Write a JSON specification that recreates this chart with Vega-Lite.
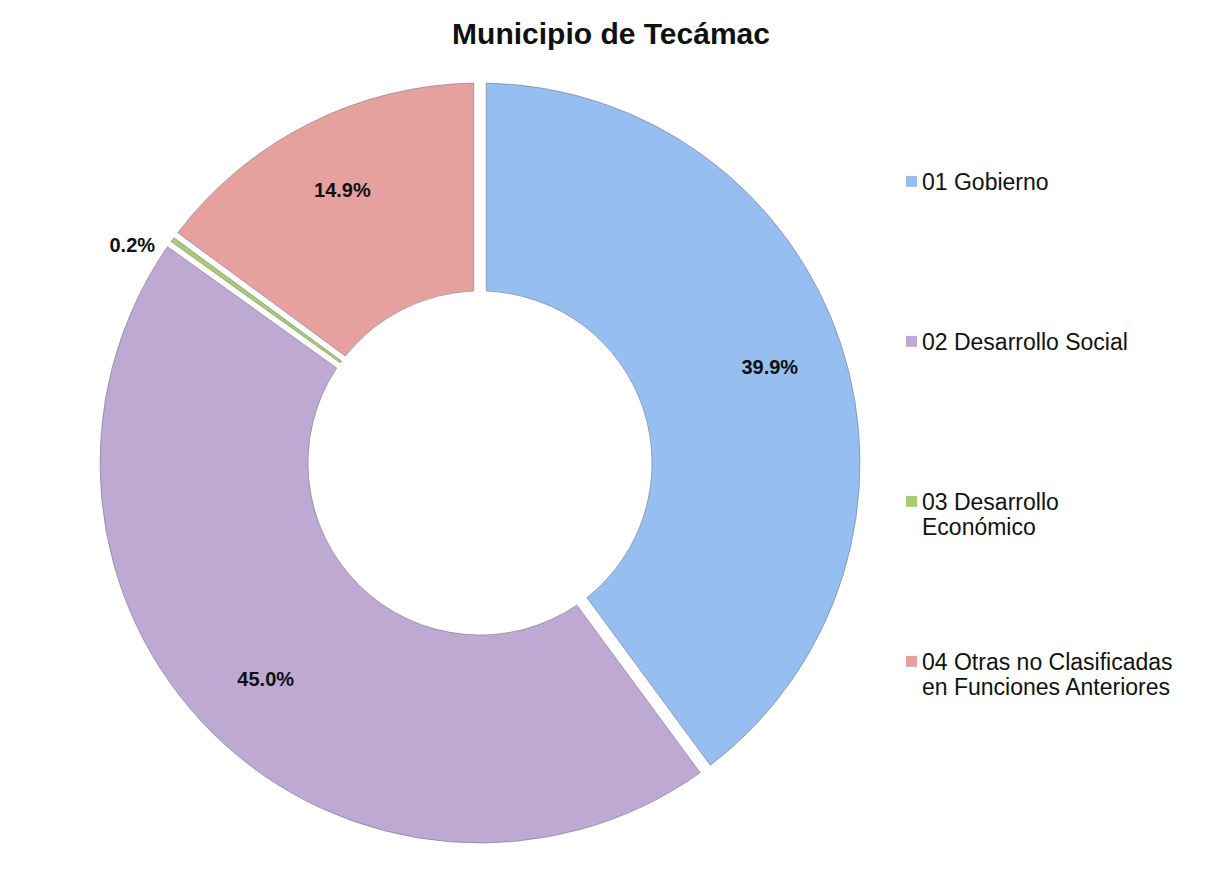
{
  "$schema": "https://vega.github.io/schema/vega-lite/v6.json",
  "width": 960,
  "height": 806,
  "padding": {"left": 0, "top": 20, "right": 0, "bottom": 0},
  "background": "white",
  "title": {"text": "Municipio de Tecámac", "fontSize": 30, "font": "Liberation Sans", "fontWeight": "bold", "color": "#111111", "anchor": "middle", "dx": 131, "offset": 10},
  "config": {"view": {"stroke": null}},
  "data": {"values": [
    {"funcion": "01 Gobierno", "share": 0.399, "orden": 1},
    {"funcion": "02 Desarrollo Social", "share": 0.450, "orden": 2},
    {"funcion": "03 Desarrollo Económico", "share": 0.002, "orden": 3},
    {"funcion": "04 Otras no Clasificadas en Funciones Anteriores", "share": 0.149, "orden": 4}
  ]},
  "encoding": {
    "theta": {"field": "share", "type": "quantitative", "stack": true},
    "order": {"field": "orden", "type": "quantitative"}
  },
  "layer": [
    {
      "mark": {"type": "arc", "innerRadius": 172, "outerRadius": 380, "padAngle": {"expr": "datum.share < 0.01 ? 0 : 0.03"}, "stroke": "#6f6f80", "strokeWidth": 1, "strokeOpacity": 0.55},
      "encoding": {
        "color": {
          "field": "funcion", "type": "nominal",
          "scale": {"domain": ["01 Gobierno", "02 Desarrollo Social", "03 Desarrollo Económico", "04 Otras no Clasificadas en Funciones Anteriores"],
                    "range": ["#97BEF0", "#BEA9D3", "#A9CC72", "#E6A19F"]},
          "legend": {
            "orient": "none", "legendX": 900, "legendY": 100, "title": null,
            "labelFontSize": 23, "labelFont": "Liberation Sans", "labelColor": "#111111", "labelLimit": 320,
            "symbolType": "M-1,0.8H1V2.8H-1Z", "symbolSize": 120, "symbolStrokeWidth": 0, "rowPadding": 100,
            "labelBaseline": "top", "labelOffset": -1,
            "labelExpr": "datum.label == '03 Desarrollo Económico' ? ['03 Desarrollo', 'Económico'] : datum.label == '04 Otras no Clasificadas en Funciones Anteriores' ? ['04 Otras no Clasificadas', 'en Funciones Anteriores'] : [datum.label, '']"
          }
        }
      }
    },
    {
      "mark": {"type": "text", "radius": 305, "fontSize": 20, "fontWeight": "bold", "font": "Liberation Sans", "color": "#111111"},
      "encoding": {"text": {"condition": {"test": "datum.share >= 0.01", "field": "share", "format": ".1%"}, "value": ""}}
    },
    {
      "mark": {"type": "text", "radius": 410, "thetaOffset": -0.07, "fontSize": 20, "fontWeight": "bold", "font": "Liberation Sans", "color": "#111111"},
      "encoding": {"text": {"condition": {"test": "datum.share < 0.01", "field": "share", "format": ".1%"}, "value": ""}}
    }
  ]
}
